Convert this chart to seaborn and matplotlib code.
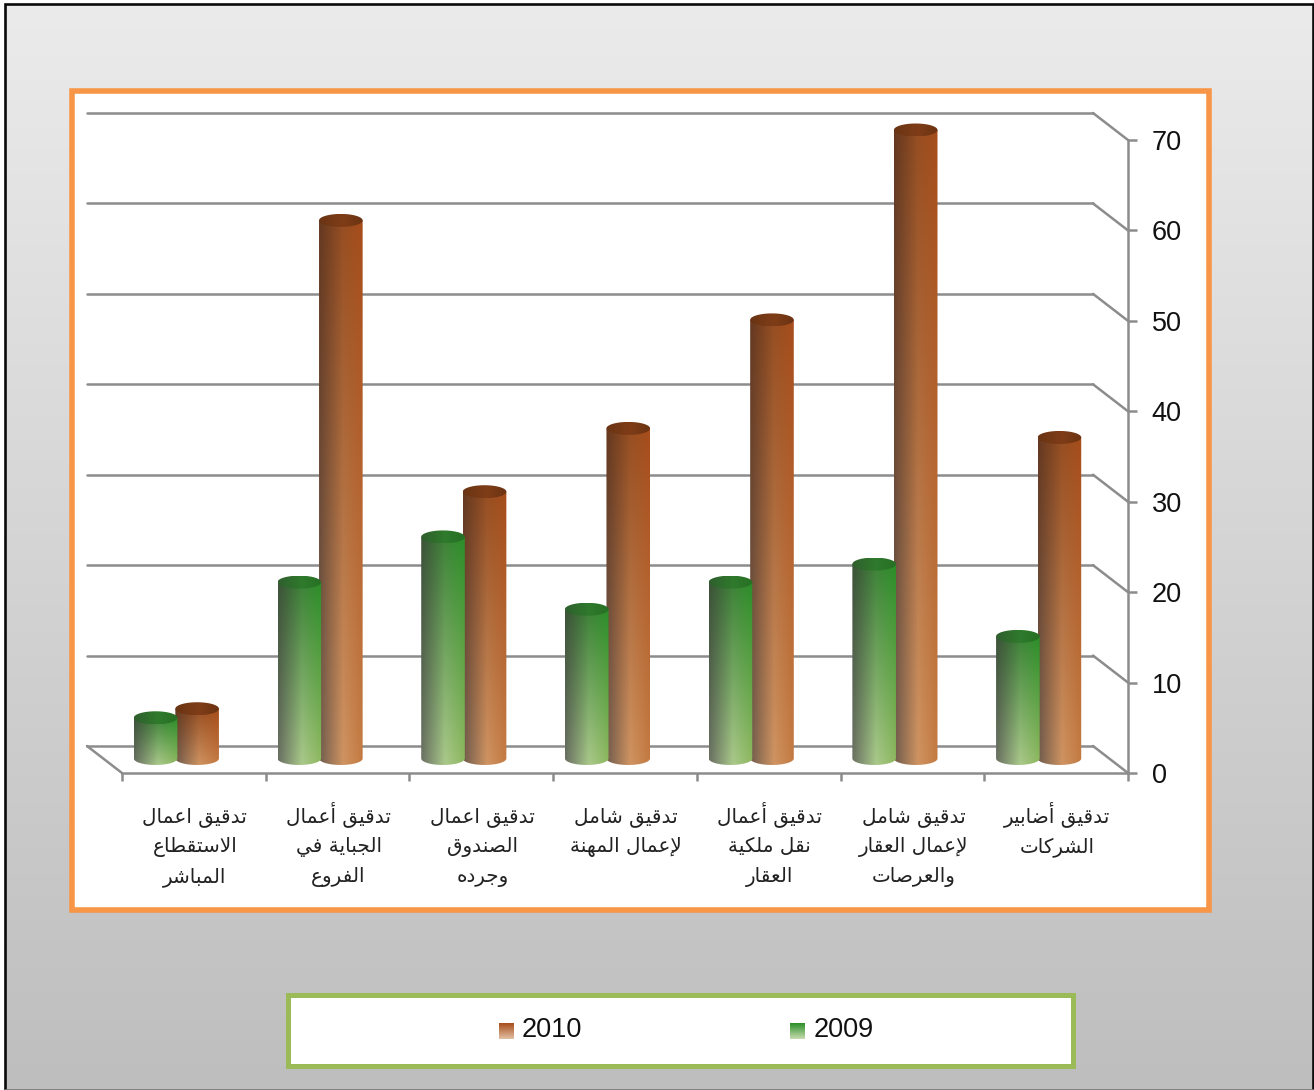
import numpy as np
import pandas as pd
import matplotlib
matplotlib.use("Agg")
import matplotlib.pyplot as plt
from matplotlib.patches import Rectangle
from matplotlib.path import Path
import seaborn as sns

categories = [
    "تدقيق اعمال\nالاستقطاع\nالمباشر",
    "تدقيق أعمال\nالجباية في\nالفروع",
    "تدقيق اعمال\nالصندوق\nوجرده",
    "تدقيق شامل\nلإعمال المهنة",
    "تدقيق أعمال\nنقل ملكية\nالعقار",
    "تدقيق شامل\nلإعمال العقار\nوالعرصات",
    "تدقيق أضابير\nالشركات",
]
values_2009 = [5, 20, 25, 17, 20, 22, 14]
values_2010 = [6, 60, 30, 37, 49, 70, 36]
y_ticks = [0, 10, 20, 30, 40, 50, 60, 70]

# ---- Arabic shaping: matplotlib has no bidi/joining, so map to presentation forms
DUAL = {"ب": 0xFE8F, "ت": 0xFE95, "ج": 0xFE9D, "س": 0xFEB1, "ش": 0xFEB5, "ص": 0xFEB9,
        "ض": 0xFEBD, "ط": 0xFEC1, "ع": 0xFEC9, "ف": 0xFED1, "ق": 0xFED5, "ك": 0xFED9,
        "ل": 0xFEDD, "م": 0xFEE1, "ن": 0xFEE5, "ه": 0xFEE9, "ي": 0xFEF1}
RIGHT = {"ا": 0xFE8D, "أ": 0xFE83, "إ": 0xFE87, "ة": 0xFE93, "د": 0xFEA9, "ر": 0xFEAD, "و": 0xFEED}
LAM_ALEF = {"ا": 0xFEFB, "أ": 0xFEF7, "إ": 0xFEF9}


def shape_line(text):
    out = []
    i = 0
    prev_joins = False
    while i < len(text):
        c = text[i]
        nxt = text[i + 1] if i + 1 < len(text) else ""
        if c == "ل" and nxt and nxt in LAM_ALEF:
            out.append(chr(LAM_ALEF[nxt] + (1 if prev_joins else 0)))
            prev_joins = False
            i += 2
            continue
        if c in DUAL:
            next_ok = bool(nxt) and (nxt in DUAL or nxt in RIGHT)
            off = {(False, False): 0, (True, False): 1, (False, True): 2, (True, True): 3}[(prev_joins, next_ok)]
            out.append(chr(DUAL[c] + off))
            prev_joins = next_ok
        elif c in RIGHT:
            out.append(chr(RIGHT[c] + (1 if prev_joins else 0)))
            prev_joins = False
        else:
            out.append(c)
            prev_joins = False
        i += 1
    return "".join(reversed(out))


sns.set_style("white")
plt.rcParams["font.family"] = ["Liberation Sans", "DejaVu Sans"]

W, H = 1314, 1090
LINE = "#8c8c8c"
LW = 1.8
fig = plt.figure(figsize=(W / 100, H / 100), dpi=100, facecolor="white")


def axes_px(x0, x1, ytop, ybot, **kw):
    return fig.add_axes([x0 / W, 1 - ybot / H, (x1 - x0) / W, (ybot - ytop) / H], **kw)


# ---- full-figure pixel canvas for background
bg = fig.add_axes([0, 0, 1, 1], zorder=0)
bg.axis("off")
grad = np.linspace(0, 1, 256)[:, None]
bg.imshow(grad, extent=(5, W, H, 4), cmap=matplotlib.colors.LinearSegmentedColormap.from_list(
    "bgc", ["#ebebeb", "#bebebe"]), aspect="auto", origin="upper", zorder=0)
bg.set_xlim(0, W)
bg.set_ylim(H, 0)
bg.plot([5, 5, W - 1, W - 1], [H, 4, 4, H], color="#0a0a0a", lw=1.9, zorder=1, solid_joinstyle="miter")
bg.plot([5, W], [H - 0.5, H - 0.5], color="#777777", lw=1.2, zorder=1)
bg.add_patch(Rectangle((72, 91), 1137, 819, fc="white", ec="#F79646", lw=4.0, zorder=1))
bg.add_patch(Rectangle((288, 995), 785, 71, fc="white", ec="#9BBB59", lw=3.6, zorder=1))

# ---- back wall gridlines
back = axes_px(87, 1093, 113, 746, zorder=1)
back.patch.set_alpha(0)
back.set_xlim(0, 1)
back.set_ylim(0, 70)
back.set_yticks(y_ticks)
back.set_xticks([])
back.tick_params(left=False, labelleft=False)
back.grid(True, axis="y", color=LINE, lw=LW)
sns.despine(ax=back, left=True, bottom=True, top=True, right=True)
for a in back.get_ygridlines():
    a.set_clip_on(False)

# ---- front plane with the value and category axes
front = axes_px(122, 1128, 140, 773, zorder=4)
front.patch.set_alpha(0)
front.set_xlim(0, len(categories))
front.set_ylim(0, 70)
front.yaxis.tick_right()
front.set_yticks(y_ticks)
front.set_yticklabels([str(v) for v in y_ticks], fontsize=19.5, color="#111111")
front.tick_params(axis="y", length=6.5, width=LW, color=LINE, pad=10.5, right=True, left=False)
front.set_xticks(range(len(categories) + 1))
front.set_xticklabels([])
front.tick_params(axis="x", which="major", length=5.5, width=LW, color=LINE, bottom=True)
for s in ("left", "top"):
    front.spines[s].set_visible(False)
for s in ("right", "bottom"):
    front.spines[s].set_visible(True)
    front.spines[s].set_color(LINE)
    front.spines[s].set_linewidth(LW)

# ---- bars in the mid-depth plane, from seaborn
df = pd.DataFrame({
    "category": categories * 2,
    "year": ["2009"] * len(categories) + ["2010"] * len(categories),
    "value": values_2009 + values_2010,
})
bars = axes_px(104.5, 1110.5, 130, 763, zorder=2)
bars.patch.set_alpha(0)
sns.barplot(data=df, x="category", y="value", hue="year", hue_order=["2009", "2010"],
            width=0.578, gap=0, legend=False, ax=bars, errorbar=None)
bars.set_ylim(0, 70)
bars.set_xlim(-0.5, len(categories) - 0.5)
bars.axis("off")

# ---- overlay canvas in pixels
top = fig.add_axes([0, 0, 1, 1], zorder=3)
top.patch.set_alpha(0)
top.axis("off")
top.set_xlim(0, W)
top.set_ylim(H, 0)

fig.canvas.draw()


def to_px(ax, x, y):
    px, py = ax.transData.transform((x, y))
    return px, H - py


# depth connectors
for v in y_ticks:
    x0, y0 = to_px(back, 1, v)
    x1, y1 = to_px(front, len(categories), v)
    top.plot([x0, x1], [y0, y1], color=LINE, lw=LW, zorder=1, solid_capstyle="round")
x0, y0 = to_px(back, 0, 0)
x1, y1 = to_px(front, 0, 0)
top.plot([x0, x1], [y0, y1], color=LINE, lw=LW, zorder=1)

# category labels, line by line at a fixed baseline grid
for i, cat in enumerate(categories):
    xc, _ = to_px(front, i + 0.5, 0)
    for j, line in enumerate(cat.split("\n")):
        top.text(xc + 1, 822 + 30 * j, shape_line(line), fontsize=14.4, family="DejaVu Sans",
                 color="#222222", ha="center", va="baseline", zorder=40)

GREEN = dict(
    body_top=["#3c5238", "#3d8238", "#2b8f28"],
    body_bot=["#6b7163", "#aac98b", "#8fb860"],
    cap=["#2f5f2e", "#2f7a2c", "#276f24"],
)
ORANGE = dict(
    body_top=["#643820", "#964e22", "#a74d1b"],
    body_bot=["#705c4e", "#cf9462", "#c47a42"],
    cap=["#6a3414", "#7f3d17", "#6b3313"],
)
STOPS = [0.0, 0.55, 1.0]


def hex_arr(colors):
    return np.array([matplotlib.colors.to_rgb(c) for c in colors])


def gradient(c_top, c_bot, rows=200, cols=64):
    xs = np.linspace(0, 1, cols)
    t = np.stack([np.interp(xs, STOPS, hex_arr(c_top)[:, i]) for i in range(3)], -1)
    b = np.stack([np.interp(xs, STOPS, hex_arr(c_bot)[:, i]) for i in range(3)], -1)
    f = np.linspace(0, 1, rows)[:, None, None]
    return t[None] * (1 - f) + b[None] * f


def cylinder(xc, half, ytop, ybase, pal, z):
    ry = 6.5
    th = np.linspace(0, np.pi, 40)
    xs = np.r_[xc - half, xc - half * np.cos(th), xc + half]
    ys = np.r_[ytop, ybase + ry * np.sin(th), ytop]
    body = Path(np.c_[np.r_[xs, xs[0]], np.r_[ys, ys[0]]], closed=True)
    im = top.imshow(gradient(pal["body_top"], pal["body_bot"]),
                    extent=(xc - half, xc + half, ybase + ry, ytop), aspect="auto",
                    origin="upper", zorder=z, interpolation="bilinear")
    im.set_clip_path(body, transform=top.transData)
    th2 = np.linspace(0, 2 * np.pi, 80)
    cap = Path(np.c_[xc + half * np.cos(th2), ytop + ry * np.sin(th2)], closed=True)
    im2 = top.imshow(gradient(pal["cap"], pal["cap"], rows=2),
                     extent=(xc - half, xc + half, ytop + ry, ytop - ry), aspect="auto",
                     origin="upper", zorder=z + 0.1, interpolation="bilinear")
    im2.set_clip_path(cap, transform=top.transData)


rects = [r for r in bars.patches if r.get_height() > 0]
n = len(categories)
# 2010 is behind 2009: draw order
order = [(r, ORANGE, 10) for r in rects[n:]] + [(r, GREEN, 20) for r in rects[:n]]
for r, pal, z in order:
    xa, yt = to_px(bars, r.get_x(), r.get_height())
    xb, _ = to_px(bars, r.get_x() + r.get_width(), 0)
    _, yb = to_px(bars, 0, 0.5)
    cylinder((xa + xb) / 2, 21.8, yt, yb, pal, z)
    r.set_visible(False)

# ---- legend
legend_years = ["2010", "2009"]
swatch_x = [499, 790]
text_x = [522, 814]
for yr, sx, tx, pal in zip(legend_years, swatch_x, text_x, [ORANGE, GREEN]):
    top.imshow(gradient(pal["body_top"][2:] * 3, ["#e2c0a4" if pal is ORANGE else "#c8dcb0"] * 3, cols=4),
               extent=(sx, sx + 15, 1039, 1023), aspect="auto", origin="upper", zorder=30)
    top.text(tx, 1030, yr, fontsize=19.5, color="#111111", va="center", ha="left", zorder=31)
top.set_xlim(0, W)
top.set_ylim(H, 0)

fig.savefig("out.png", dpi=100)
